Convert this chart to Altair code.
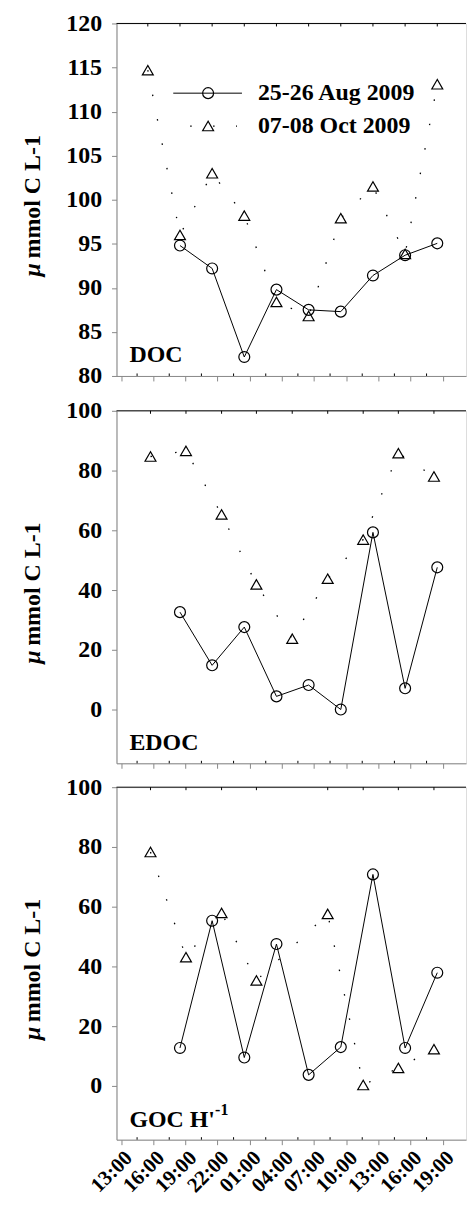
import altair as alt
import pandas as pd

FONT = "'Liberation Serif', 'Times New Roman', Times, serif"

# Time axis: hours after 13:00 on the first day
tick_hours = [0, 3, 6, 9, 12, 15, 18, 21, 24, 27, 30]
tick_labels = ["13:00", "16:00", "19:00", "22:00", "01:00", "04:00",
               "07:00", "10:00", "13:00", "16:00", "19:00"]
minor_hours = [1.5, 4.5, 7.5, 10.5, 13.5, 16.5, 19.5, 22.5, 25.5, 28.5]

# 25-26 Aug 2009 sampling times
aug_hours = [5.5, 8.5, 11.5, 14.5, 17.5, 20.5, 23.5, 26.5, 29.5]
# 07-08 Oct 2009 sampling times
doc_oct_hours = [2.5, 5.5, 8.5, 11.5, 14.5, 17.5, 20.5, 23.5, 26.5, 29.5]
oct_hours = [2.75, 6.06, 9.38, 12.63, 15.97, 19.28, 22.59, 25.87, 29.19]
goc_oct_hours = [2.75, 6.06, 9.38, 12.63, 19.28, 22.59, 25.87, 29.19]

doc_aug = [94.8, 92.2, 82.15, 89.8, 87.5, 87.3, 91.4, 93.7, 95.05]
doc_oct = [114.7, 96.0, 103.0, 98.2, 88.4, 86.8, 97.9, 101.5, 93.85, 113.1]
edoc_aug = [32.6, 14.8, 27.6, 4.4, 8.2, 0.0, 59.3, 7.1, 47.6]
edoc_oct = [84.7, 86.6, 65.3, 41.9, 23.7, 43.8, 56.9, 85.8, 78.0]
goc_aug = [12.7, 55.3, 9.5, 47.5, 3.7, 13.0, 70.8, 12.7, 37.9]
goc_oct = [78.3, 43.1, 57.9, 35.3, 57.6, 0.3, 6.0, 12.3]

legend_labels = ["25-26 Aug 2009", "07-08 Oct 2009"]

W = 351
H = 354
X_DOMAIN = [-0.42, -0.42 + W / 10.767]

label_expr = "[" + ",".join(f"'{t}'" for t in tick_labels) + "][round(datum.value / 3)]"


def text_layer(txt, x, y, size=24, style="normal", align="left", angle=0):
    return alt.Chart(pd.DataFrame({"t": [txt]})).mark_text(
        font=FONT, fontSize=size, fontWeight="bold", fontStyle=style,
        align=align, baseline="middle", color="black", angle=angle,
    ).encode(x=alt.value(x), y=alt.value(y), text="t:N")


def y_title_layers():
    c = H / 2
    return [
        text_layer("\u03bc", -84, c + 77, style="italic", angle=270),
        text_layer("mmol C L-1", -84, c + 59, angle=270),
    ]


def panel(aug_x, aug_y, oct_x, oct_y, ydom, yvals, show_labels, extra):
    aug = pd.DataFrame({"hour": aug_x, "value": aug_y})
    octd = pd.DataFrame({"hour": oct_x, "value": oct_y})
    minor = pd.DataFrame({"hour": minor_hours})

    x = alt.X("hour:Q", title=None,
              scale=alt.Scale(domain=X_DOMAIN, nice=False, zero=False),
              axis=alt.Axis(values=tick_hours, labels=show_labels, labelExpr=label_expr,
                            labelAngle=315, tickSize=5, labelPadding=2, labelOverlap=False,
                            labelFont=FONT, labelFontSize=21, labelFontWeight="bold",
                            labelColor="black", grid=False))
    y = alt.Y("value:Q", title=None,
              scale=alt.Scale(domain=ydom, nice=False, zero=False),
              axis=alt.Axis(values=yvals, tickSize=5, labelPadding=10, labelOverlap=False,
                            labelFont=FONT, labelFontSize=24, labelFontWeight="bold",
                            labelColor="black", grid=False))

    aug_line = alt.Chart(aug).mark_line(color="black", strokeWidth=1).encode(x=x, y=y)
    aug_pts = alt.Chart(aug).mark_point(
        shape="circle", size=120, filled=False, color="black", strokeWidth=1.2, opacity=1
    ).encode(x=x, y=y)
    oct_line = alt.Chart(octd).mark_line(
        color="black", strokeWidth=1.3, strokeDash=[1.5, 23.5]
    ).encode(x=x, y=y)
    oct_pts = alt.Chart(octd).mark_point(
        shape="triangle-up", size=120, filled=False, color="black", strokeWidth=1.2, opacity=1
    ).encode(x=x, y=y)

    # frame top edge and its small inward ticks at the October sampling times
    top_edge = alt.Chart(pd.DataFrame({"a": [0]})).mark_rule(color="black", strokeWidth=1).encode(
        x=alt.value(0), x2=alt.value(W), y=alt.value(0))
    top_ticks = alt.Chart(octd).mark_rule(color="black", strokeWidth=1).encode(
        x=x, y=alt.value(0), y2=alt.value(3))
    minor_ticks = alt.Chart(minor).mark_rule(color="black", strokeWidth=1).encode(
        x=x, y=alt.value(H), y2=alt.value(H - 2.5))

    layers = [top_edge, top_ticks, minor_ticks, aug_line, oct_line, aug_pts, oct_pts]
    layers += y_title_layers() + extra
    return alt.layer(*layers).properties(width=W, height=H)


# legend drawn inside the DOC panel
leg = pd.DataFrame({"a": [0]})
legend_layers = [
    alt.Chart(leg).mark_rule(color="black", strokeWidth=1).encode(
        x=alt.value(57), x2=alt.value(126), y=alt.value(70)),
    alt.Chart(leg).mark_point(shape="circle", size=120, filled=False, color="black",
                              strokeWidth=1.2, opacity=1).encode(x=alt.value(92), y=alt.value(70)),
    text_layer(legend_labels[0], 142, 70),
    alt.Chart(leg).mark_rule(color="black", strokeWidth=1.3, strokeDash=[1.5, 21.5]).encode(
        x=alt.value(74), x2=alt.value(121), y=alt.value(103)),
    alt.Chart(leg).mark_point(shape="triangle-up", size=120, filled=False, color="black",
                              strokeWidth=1.2, opacity=1).encode(x=alt.value(92), y=alt.value(103)),
    text_layer(legend_labels[1], 142, 103),
]

doc = panel(aug_hours, doc_aug, doc_oct_hours, doc_oct, [80, 120],
            list(range(80, 121, 5)), False, [text_layer("DOC", 13, H - 21)] + legend_layers)
edoc = panel(aug_hours, edoc_aug, oct_hours, edoc_oct, [-18, 100],
             list(range(0, 101, 20)), False, [text_layer("EDOC", 13, H - 20)])
goc = panel(aug_hours, goc_aug, goc_oct_hours, goc_oct, [-18, 100],
            list(range(0, 101, 20)), True,
            [text_layer("GOC H'", 13, H - 20), text_layer("-1", 99, H - 30, size=16)])

chart = alt.vconcat(
    doc,
    alt.vconcat(edoc, goc, spacing=5),
    spacing=9,
).properties(
    padding={"left": 20, "top": 8, "right": 0, "bottom": 0},
).configure_view(stroke=None).configure_axis(
    domainColor="black", tickColor="black", domainWidth=1, tickWidth=1,
).configure(background="white")

chart.save("out.html", embed_options={"renderer": "svg", "actions": False})
